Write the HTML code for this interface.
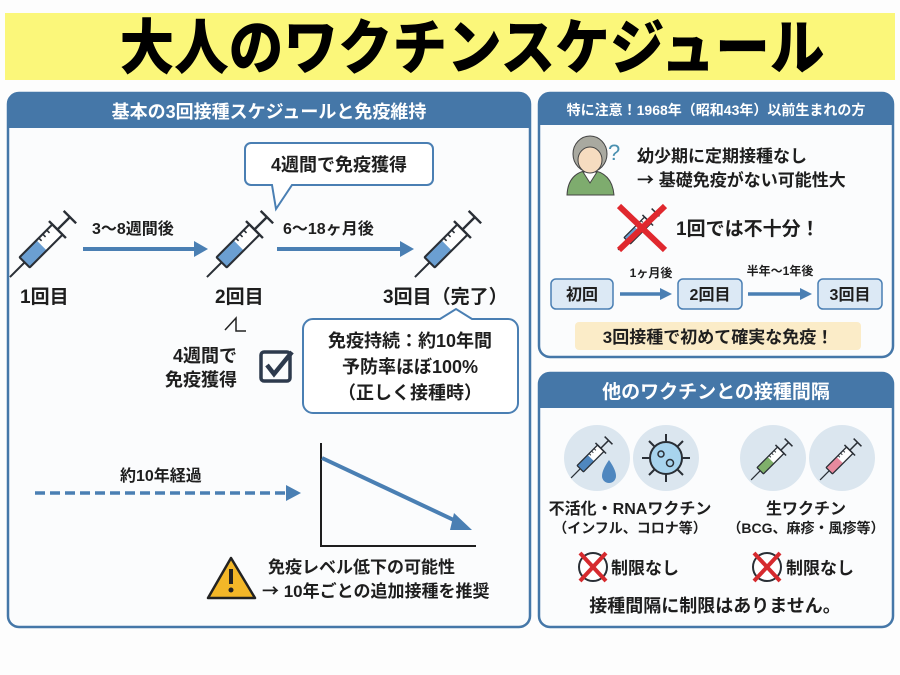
<!DOCTYPE html>
<html><head><meta charset="utf-8"><style>
html,body{margin:0;padding:0;background:#fff}
svg{display:block}
text{font-family:"Liberation Sans","Noto Sans CJK JP",sans-serif;font-weight:bold;fill:#1e1e1e}
</style></head><body>
<svg width="900" height="675" viewBox="0 0 900 675" xmlns="http://www.w3.org/2000/svg">
<defs>
<g id="syr">
  <line x1="-62" y1="0" x2="-36" y2="0" stroke="#2a2f36" stroke-width="2.5"/>
  <rect x="-36" y="-9" width="58" height="18" fill="#ffffff" stroke="none"/>
  <rect x="-36" y="-9" width="30" height="18" stroke="none"/>
  <rect x="-36" y="-9" width="58" height="18" fill="none" stroke="#2a2f36" stroke-width="2.6" rx="1"/>
  <line x1="-2" y1="-9" x2="-2" y2="-4" stroke="#2a2f36" stroke-width="2"/>
  <line x1="5" y1="-9" x2="5" y2="-4" stroke="#2a2f36" stroke-width="2"/>
  <line x1="12" y1="-9" x2="12" y2="-4" stroke="#2a2f36" stroke-width="2"/>
  <line x1="22" y1="-15" x2="22" y2="15" stroke="#2a2f36" stroke-width="3"/>
  <line x1="22" y1="0" x2="44" y2="0" stroke="#2a2f36" stroke-width="3"/>
  <line x1="44" y1="-11" x2="44" y2="11" stroke="#2a2f36" stroke-width="3"/>
</g>
</defs>
<rect width="900" height="675" fill="#fdfdfd"/>
<!-- title band -->
<rect x="5" y="13" width="890" height="67" fill="#fbf77a"/>
<text x="472" y="69" text-anchor="middle" font-size="60" transform="translate(472 0) scale(0.91 1) translate(-472 0)" style="font-family:'Noto Sans CJK JP',sans-serif;font-weight:900;fill:#000">大人のワクチンスケジュール</text>

<!-- left panel -->
<rect x="8" y="93" width="522" height="534" rx="11" fill="#fbfcfd" stroke="#4577a8" stroke-width="2.5"/>
<path d="M8 128 V104 a11 11 0 0 1 11 -11 H519 a11 11 0 0 1 11 11 V128 Z" fill="#4577a8"/>
<text x="269" y="118" text-anchor="middle" font-size="18" style="fill:#fff">基本の3回接種スケジュールと免疫維持</text>

<!-- syringes -->
<g fill="#6b9fd2">
<g transform="translate(45 242) rotate(-45) scale(0.8)"><use href="#syr"/></g>
<g transform="translate(242 242) rotate(-45) scale(0.8)"><use href="#syr"/></g>
<g transform="translate(450 242) rotate(-45) scale(0.8)"><use href="#syr"/></g>
</g>
<text x="92" y="234" font-size="16">3〜8週間後</text>
<line x1="83" y1="249" x2="196" y2="249" stroke="#4a7fb3" stroke-width="4"/>
<polygon points="194,241 208,249 194,257" fill="#4a7fb3"/>
<text x="283" y="234" font-size="16">6〜18ヶ月後</text>
<line x1="277" y1="249" x2="402" y2="249" stroke="#4a7fb3" stroke-width="4"/>
<polygon points="400,241 414,249 400,257" fill="#4a7fb3"/>
<text x="20" y="303" font-size="19">1回目</text>
<text x="215" y="303" font-size="19">2回目</text>
<text x="383" y="303" font-size="19">3回目（完了）</text>

<!-- callout 1 -->
<path d="M251 143 H427 a6 6 0 0 1 6 6 V179 a6 6 0 0 1 -6 6 H292 L276 209 L272 185 H251 a6 6 0 0 1 -6 -6 V149 a6 6 0 0 1 6 -6 Z" fill="#fff" stroke="#4a7fb3" stroke-width="2"/>
<text x="339" y="171" text-anchor="middle" font-size="18">4週間で免疫獲得</text>

<!-- zigzag -->
<polyline points="225,330 236,318 236,331 246,331" fill="none" stroke="#222" stroke-width="1.5"/>
<text x="237" y="362" text-anchor="end" font-size="18">4週間で</text>
<text x="237" y="386" text-anchor="end" font-size="18">免疫獲得</text>
<rect x="261" y="352" width="29" height="29" rx="3" fill="none" stroke="#2d3a4d" stroke-width="3.5"/>
<polyline points="267,365 274,374 292,352" fill="none" stroke="#2d3a4d" stroke-width="4.5"/>

<!-- callout 2 -->
<path d="M313 319 H440 L456 309 L472 319 H508 a10 10 0 0 1 10 10 V403 a10 10 0 0 1 -10 10 H313 a10 10 0 0 1 -10 -10 V329 a10 10 0 0 1 10 -10 Z" fill="#fff" stroke="#4a7fb3" stroke-width="2"/>
<text x="410" y="347" text-anchor="middle" font-size="18">免疫持続：約10年間</text>
<text x="410" y="373" text-anchor="middle" font-size="18">予防率ほぼ100%</text>
<text x="410" y="399" text-anchor="middle" font-size="18">（正しく接種時）</text>

<!-- decline -->
<text x="120" y="481" font-size="16">約10年経過</text>
<line x1="35" y1="493" x2="290" y2="493" stroke="#4a7fb3" stroke-width="3.5" stroke-dasharray="10 5"/>
<polygon points="286,485 301,493 286,501" fill="#4a7fb3"/>
<polyline points="321,443 321,546 476,546" fill="none" stroke="#1e1e1e" stroke-width="2"/>
<line x1="322" y1="458" x2="458" y2="522" stroke="#4a7fb3" stroke-width="4"/>
<polygon points="454,513 472,530 450,530" fill="#4a7fb3"/>
<path d="M231 558 L255 598 H208 Z" fill="#f3b728" stroke="#222" stroke-width="2.5" stroke-linejoin="round"/>
<rect x="229" y="569" width="4" height="15" fill="#222"/><circle cx="231" cy="590" r="2.5" fill="#222"/>
<text x="268" y="573" font-size="17">免疫レベル低下の可能性</text>
<text x="262" y="597" font-size="17"><tspan style="font-family:'Noto Sans CJK JP',sans-serif">→</tspan> 10年ごとの追加接種を推奨</text>

<!-- right top panel -->
<rect x="539" y="93" width="354" height="264" rx="11" fill="#fbfcfd" stroke="#4577a8" stroke-width="2.5"/>
<path d="M539 125 V104 a11 11 0 0 1 11 -11 H882 a11 11 0 0 1 11 11 V125 Z" fill="#4577a8"/>
<text x="716" y="115" text-anchor="middle" font-size="14" style="fill:#fff">特に注意！1968年（昭和43年）以前生まれの方</text>
<!-- person -->
<path d="M567 195 Q568 172 590 170 Q612 172 614 195 Z" fill="#7eac6e" stroke="#444" stroke-width="1"/>
<path d="M583 172 L590 183 L597 172 Z" fill="#fff" stroke="#444" stroke-width="1"/>
<ellipse cx="590" cy="154" rx="17" ry="18" fill="#a9a9a0" stroke="#444" stroke-width="1"/>
<ellipse cx="590" cy="160" rx="12" ry="13" fill="#f6dcc0" stroke="#444" stroke-width="1"/>
<text x="608" y="160" font-size="22" style="fill:#4a90b0;font-weight:normal">?</text>
<text x="637" y="162" font-size="17">幼少期に定期接種なし</text>
<text x="637" y="186" font-size="17"><tspan style="font-family:'Noto Sans CJK JP',sans-serif">→</tspan> 基礎免疫がない可能性大</text>
<g fill="#6b9fd2"><g transform="translate(640 228) rotate(-45) scale(0.5)"><use href="#syr"/></g></g>
<line x1="619" y1="206" x2="665" y2="250" stroke="#e0282e" stroke-width="6"/>
<line x1="665" y1="206" x2="619" y2="250" stroke="#e0282e" stroke-width="6"/>
<text x="676" y="235" font-size="19">1回では不十分！</text>
<text x="651" y="277" text-anchor="middle" font-size="12">1ヶ月後</text>
<text x="780" y="275" text-anchor="middle" font-size="12">半年〜1年後</text>
<rect x="551" y="279" width="62" height="30" rx="5" fill="#dce9f5" stroke="#4a7fb3" stroke-width="1.5"/>
<text x="582" y="300" text-anchor="middle" font-size="16">初回</text>
<rect x="678" y="279" width="64" height="30" rx="5" fill="#dce9f5" stroke="#4a7fb3" stroke-width="1.5"/>
<text x="710" y="300" text-anchor="middle" font-size="16">2回目</text>
<rect x="818" y="279" width="64" height="30" rx="5" fill="#dce9f5" stroke="#4a7fb3" stroke-width="1.5"/>
<text x="850" y="300" text-anchor="middle" font-size="16">3回目</text>
<line x1="620" y1="294" x2="662" y2="294" stroke="#4a7fb3" stroke-width="3.5"/>
<polygon points="660,288 672,294 660,300" fill="#4a7fb3"/>
<line x1="748" y1="294" x2="802" y2="294" stroke="#4a7fb3" stroke-width="3.5"/>
<polygon points="800,288 812,294 800,300" fill="#4a7fb3"/>
<rect x="575" y="322" width="286" height="28" rx="4" fill="#fbecc8"/>
<text x="718" y="343" text-anchor="middle" font-size="17">3回接種で初めて確実な免疫！</text>

<!-- right bottom panel -->
<rect x="539" y="373" width="354" height="254" rx="11" fill="#fbfcfd" stroke="#4577a8" stroke-width="2.5"/>
<path d="M539 408 V384 a11 11 0 0 1 11 -11 H882 a11 11 0 0 1 11 11 V408 Z" fill="#4577a8"/>
<text x="716" y="398" text-anchor="middle" font-size="19" style="fill:#fff">他のワクチンとの接種間隔</text>
<circle cx="597" cy="458" r="33" fill="#dbe6ef"/>
<circle cx="666" cy="458" r="33" fill="#dbe6ef"/>
<circle cx="773" cy="458" r="33" fill="#dbe6ef"/>
<circle cx="842" cy="458" r="33" fill="#dbe6ef"/>
<g fill="#4f87bf"><g transform="translate(593 456) rotate(-45) scale(0.5)"><use href="#syr"/></g></g>
<path d="M609 460 Q602 470 602 476 a7 7 0 0 0 14 0 Q616 470 609 460 Z" fill="#4f87bf"/>
<circle cx="666" cy="458" r="16" fill="#a8d4ee" stroke="#2a2f36" stroke-width="2"/>
<g stroke="#2a2f36" stroke-width="2">
<line x1="666" y1="442" x2="666" y2="434"/><line x1="666" y1="474" x2="666" y2="482"/>
<line x1="650" y1="458" x2="642" y2="458"/><line x1="682" y1="458" x2="690" y2="458"/>
<line x1="655" y1="447" x2="649" y2="441"/><line x1="677" y1="447" x2="683" y2="441"/>
<line x1="655" y1="469" x2="649" y2="475"/><line x1="677" y1="469" x2="683" y2="475"/>
</g>
<circle cx="661" cy="454" r="3" fill="none" stroke="#2a2f36" stroke-width="1.5"/>
<circle cx="670" cy="463" r="3.5" fill="none" stroke="#2a2f36" stroke-width="1.5"/>
<g fill="#7fb06a"><g transform="translate(773 458) rotate(-45) scale(0.5)"><use href="#syr"/></g></g>
<g fill="#e88a9e"><g transform="translate(842 458) rotate(-45) scale(0.5)"><use href="#syr"/></g></g>
<text x="630" y="514" text-anchor="middle" font-size="16">不活化・RNAワクチン</text>
<text x="630" y="533" text-anchor="middle" font-size="14">（インフル、コロナ等）</text>
<text x="806" y="514" text-anchor="middle" font-size="16">生ワクチン</text>
<text x="806" y="533" text-anchor="middle" font-size="14">（BCG、麻疹・風疹等）</text>
<circle cx="593" cy="567" r="14" fill="#fff" stroke="#2a2f36" stroke-width="2"/>
<line x1="580" y1="553" x2="606" y2="581" stroke="#d62a2e" stroke-width="4"/>
<line x1="606" y1="553" x2="580" y2="581" stroke="#d62a2e" stroke-width="4"/>
<text x="611" y="574" font-size="17">制限なし</text>
<circle cx="767" cy="567" r="14" fill="#fff" stroke="#2a2f36" stroke-width="2"/>
<line x1="754" y1="553" x2="780" y2="581" stroke="#d62a2e" stroke-width="4"/>
<line x1="780" y1="553" x2="754" y2="581" stroke="#d62a2e" stroke-width="4"/>
<text x="786" y="574" font-size="17">制限なし</text>
<text x="715" y="612" text-anchor="middle" font-size="18">接種間隔に制限はありません。</text>
</svg>
</body></html>
